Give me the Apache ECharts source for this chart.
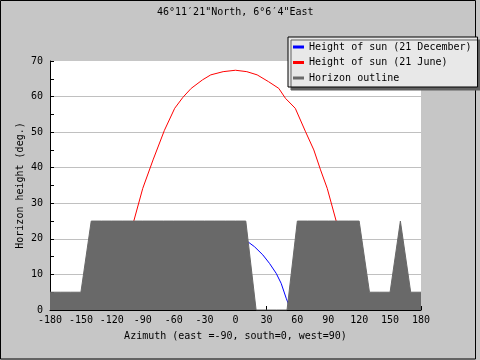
<!DOCTYPE html>
<html>
<head>
<meta charset="utf-8">
<script src="https://cdn.jsdelivr.net/npm/echarts@6/dist/echarts.min.js"></script>
<style>html,body{margin:0;padding:0;background:#c6c6c6;}#c{width:480px;height:360px;}</style>
</head>
<body>
<div id="c"></div>
<script>
const titleText = '46°11′21"North, 6°6′4"East';
const xName = 'Azimuth (east =-90, south=0, west=90)';
const yName = 'Horizon height (deg.)';
const seriesNames = ['Height of sun (21 December)', 'Height of sun (21 June)', 'Horizon outline'];

const horizonAz = [-180,-170,-160,-150,-140,-130,-120,-110,-100,-90,-80,-70,-60,-50,-40,-30,-20,-10,0,10,20,30,40,50,60,70,80,90,100,110,120,130,140,150,160,170,180];
const horizonH  = [5,5,5,5,25,25,25,25,25,25,25,25,25,25,25,25,25,25,25,25,0,0,0,0,25,25,25,25,25,25,25,5,5,5,25,5,5];

const juneAz = [-125,-115,-105,-98.7,-90,-80,-69,-59,-51,-43,-32,-24,-12,0,11,21,32,42,48.5,58,68,76,82.5,89,97.7,105,115,125];
const juneH  = [0,8,17,25,34.2,42.2,50.5,56.7,59.8,62.3,64.7,66.1,67.0,67.4,67.0,66.1,64.2,62.3,59.5,56.7,50.1,45.0,39.4,34.2,25,17,8,0];

const decAz = [-53,-45,-35,-25,-15,-5,5,11.9,18.4,26.5,33,39.5,44.3,49.2,53];
const decH  = [0.4,5.5,10.5,14.8,18,19.9,20.2,19.2,17.8,15.5,13.1,10.3,7.5,3.3,0.4];

const zip = (a, b) => a.map((v, i) => [v, b[i]]);
const font = 'DejaVu Sans Mono';

const chart = echarts.init(document.getElementById('c'), null, {renderer: 'canvas'});
chart.setOption({
  animation: false,
  backgroundColor: '#c6c6c6',
  graphic: [{
    type: 'rect', z: -10, silent: true,
    shape: {x: 0.5, y: 0.5, width: 475, height: 358.5},
    style: {fill: null, stroke: '#000', lineWidth: 1}
  }],
  title: {
    text: titleText, left: 157, top: 7, padding: 0,
    textStyle: {fontFamily: font, fontSize: 10, fontWeight: 'normal', color: '#000'}
  },
  legend: {
    orient: 'vertical', left: 288, top: 37, padding: [4, 6, 3, 5],
    itemWidth: 11, itemHeight: 3, itemGap: 3.5, icon: 'rect',
    backgroundColor: '#e8e8e8', borderColor: '#000', borderWidth: 1,
    shadowColor: '#606060', shadowOffsetX: 3, shadowOffsetY: 3, shadowBlur: 0,
    textStyle: {fontFamily: font, fontSize: 10, color: '#000', lineHeight: 12},
    data: seriesNames
  },
  grid: {left: 50, right: 59, top: 61, bottom: 50, show: true, backgroundColor: '#fff', borderWidth: 0},
  xAxis: {
    type: 'value', min: -180, max: 180, interval: 30,
    name: xName, nameLocation: 'middle', nameGap: 21,
    nameTextStyle: {fontFamily: font, fontSize: 10, color: '#000'},
    axisLine: {onZero: false, lineStyle: {color: '#000', width: 1}},
    axisTick: {inside: true, length: 4, lineStyle: {color: '#000'}},
    axisLabel: {fontFamily: font, fontSize: 10, color: '#000', margin: 5},
    splitLine: {show: false}
  },
  yAxis: {
    type: 'value', min: 0, max: 70, interval: 10,
    name: yName, nameLocation: 'middle', nameGap: 25, nameMoveOverlap: false,
    nameTextStyle: {fontFamily: font, fontSize: 10, color: '#000'},
    axisLine: {show: true, onZero: false, lineStyle: {color: '#000', width: 1}},
    axisTick: {show: true, inside: true, length: 4, lineStyle: {color: '#000'}},
    minorTick: {show: true, splitNumber: 2, length: 4, lineStyle: {color: '#000'}},
    axisLabel: {fontFamily: font, fontSize: 10, color: '#000', margin: 7},
    splitLine: {show: true, lineStyle: {color: ['#c0c0c0','#c0c0c0','#c0c0c0','#c0c0c0','#c0c0c0','#c0c0c0','#c0c0c0','#ffffff'], width: 1}}
  },
  series: [
    {name: seriesNames[0], type: 'line', data: zip(decAz, decH), showSymbol: false, z: 2,
     itemStyle: {color: '#0000ff'}, lineStyle: {color: '#0000ff', width: 1}},
    {name: seriesNames[1], type: 'line', data: zip(juneAz, juneH), showSymbol: false, z: 2,
     itemStyle: {color: '#ff0000'}, lineStyle: {color: '#ff0000', width: 1}},
    {name: seriesNames[2], type: 'line', data: zip(horizonAz, horizonH), showSymbol: false, z: 3,
     itemStyle: {color: '#696969'}, lineStyle: {color: '#696969', width: 1},
     areaStyle: {color: '#696969', opacity: 1}}
  ]
});
</script>
</body>
</html>
